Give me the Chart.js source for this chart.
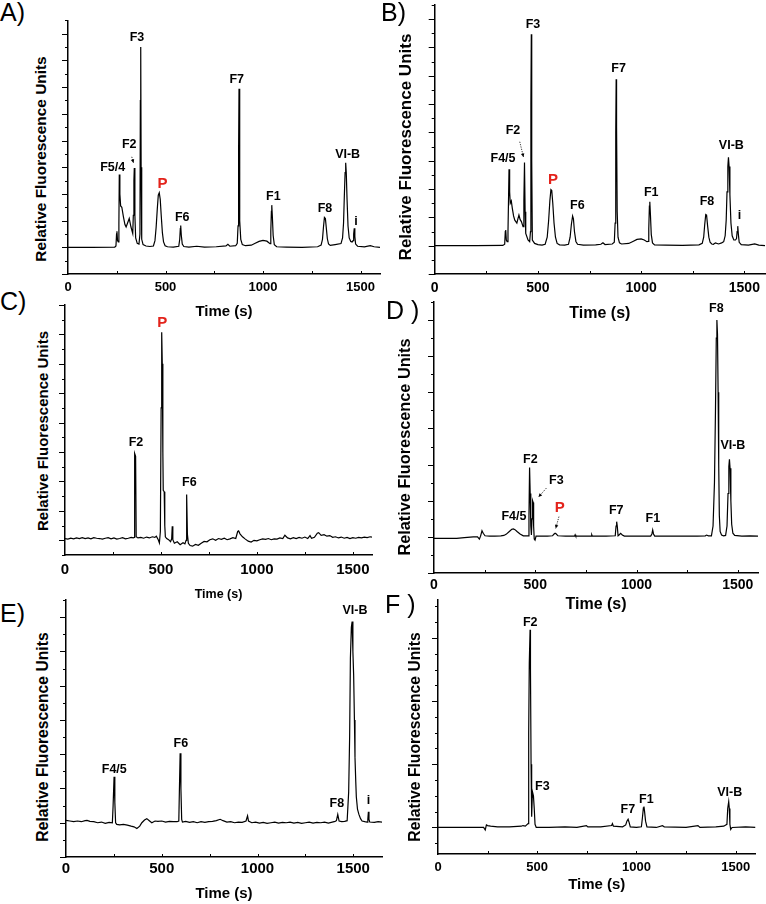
<!DOCTYPE html>
<html>
<head>
<meta charset="utf-8">
<script src="https://cdn.jsdelivr.net/npm/chart.js@4.4.0/dist/chart.umd.min.js"></script>
<style>
  html, body { margin: 0; padding: 0; background: #fff; overflow: hidden; }
  #fig { position: relative; width: 766px; height: 904px; font-family: "Liberation Sans", Arial, sans-serif; }
  canvas { position: absolute; }
  .tag { position: absolute; font-size: 25px; line-height: 25px; color: #000; white-space: pre; }
  .ytitle { position: absolute; font-weight: bold; white-space: nowrap; color: #000;
            transform: translate(-50%, -50%) rotate(-90deg); }
</style>
</head>
<body>
<div id="fig"></div>
<script>
// ticks of the time axis (same for every panel)
const xTickLabels = [0, 500, 1000, 1500];
const xTickMarks = [250, 500, 750, 1000, 1250, 1500];

// y ticks (no numbers in the original, only marks)
const yMajor1 = [-1, 0, 1, 2, 3, 4, 5, 6, 7, 8];
const yMinor1 = [-0.5, 0.5, 1.5, 2.5, 3.5, 4.5, 5.5, 6.5, 7.5, 8.5];
const yMajorC = [0, 1, 2, 3, 4, 5, 6, 7, 8];
const yMinorC = [-0.5, 0.5, 1.5, 2.5, 3.5, 4.5, 5.5, 6.5, 7.5];
const yMajor2 = [-1, 0, 1, 2, 3, 4, 5, 6];
const yMinor2 = [-0.5, 0.5, 1.5, 2.5, 3.5, 4.5, 5.5, 6.5];
const yMajorF = [0, 1, 2, 3];
const yMinorF = [-0.25, 0.25, 0.5, 0.75, 1.25, 1.5, 1.75, 2.25, 2.5, 2.75, 3.25, 3.5];

// electropherograms: [time (s), relative fluorescence]
const traceA = [[0,0],[120,0],[240,0.01],[246,0.05],[249,0.5],[251,0.6],[254,0.25],[258,0.2],[261,0.9],[263,2.73],[266,2.0],[270,1.55],[276,1.5],[284,1.15],[292,0.85],[298,0.76],[306,0.92],[314,1.08],[323,0.76],[332,0.52],[335,1.2],[338,2.5],[340,2.97],[343,1.2],[347,0.35],[355,0.15],[364,0.12],[369,0.5],[371,5.5],[373,7.5],[375,3.0],[378,0.3],[385,0.1],[400,0.05],[420,0.03],[438,0.05],[446,0.25],[452,0.75],[458,1.45],[463,1.95],[468,2.04],[473,1.8],[478,1.2],[484,0.55],[490,0.2],[498,0.06],[510,0.02],[540,0.01],[568,0.04],[573,0.3],[576,0.7],[578,0.82],[581,0.45],[586,0.12],[594,0.03],[620,0.01],[660,0.04],[700,0.01],[760,0.02],[810,0.05],[820,0.11],[830,0.04],[860,0.06],[868,0.15],[872,0.8],[875,3.8],[877,5.94],[879,4.3],[882,1.0],[886,0.3],[894,0.1],[910,0.06],[940,0.08],[960,0.15],[980,0.22],[1000,0.26],[1020,0.23],[1030,0.17],[1036,0.14],[1040,0.6],[1043,1.35],[1045,1.58],[1048,1.15],[1052,0.45],[1058,0.1],[1070,0.02],[1120,0.01],[1200,0],[1280,0.02],[1298,0.08],[1305,0.3],[1310,0.75],[1315,1.12],[1320,1.08],[1325,0.7],[1330,0.32],[1336,0.13],[1345,0.07],[1370,0.1],[1400,0.14],[1408,0.35],[1413,0.9],[1417,1.9],[1421,2.8],[1424,3.17],[1427,2.8],[1431,1.8],[1436,0.8],[1442,0.35],[1450,0.22],[1457,0.2],[1462,0.25],[1465,0.5],[1468,0.71],[1471,0.4],[1475,0.12],[1485,0.04],[1520,0.02],[1550,0.06],[1570,0.02],[1600,0]];

const traceB = [[0,0],[200,0],[330,0.01],[339,0.05],[342,0.5],[344,0.55],[347,0.2],[351,0.14],[355,0.5],[358,1.8],[360,2.7],[363,1.9],[366,1.5],[371,1.58],[376,1.32],[382,1.05],[388,0.9],[398,0.8],[403,0.95],[408,1.08],[414,0.92],[420,0.85],[428,0.67],[432,1.6],[435,2.94],[438,1.2],[441,0.43],[452,0.2],[460,0.14],[464,0.5],[466,5.0],[468,7.47],[470,3.0],[473,0.2],[484,0.08],[500,0.04],[520,0.02],[535,0.05],[545,0.3],[552,0.9],[558,1.6],[563,1.98],[567,1.95],[572,1.5],[578,0.8],[585,0.3],[593,0.08],[605,0.03],[630,0.02],[648,0.05],[656,0.3],[662,0.75],[668,1.05],[672,0.95],[677,0.5],[684,0.15],[692,0.05],[720,0.02],[780,0.03],[805,0.05],[815,0.1],[825,0.04],[860,0.06],[870,0.12],[874,0.8],[877,4.0],[879,5.88],[881,4.2],[884,1.2],[888,0.3],[895,0.1],[905,0.06],[940,0.08],[960,0.15],[980,0.22],[1000,0.24],[1015,0.2],[1028,0.14],[1034,0.15],[1037,0.6],[1040,1.4],[1042,1.55],[1045,1.1],[1049,0.4],[1055,0.1],[1065,0.03],[1120,0.02],[1200,0.01],[1280,0.03],[1296,0.08],[1303,0.3],[1308,0.75],[1313,1.1],[1317,1.08],[1322,0.7],[1328,0.3],[1334,0.12],[1342,0.06],[1350,0.05],[1360,0.1],[1375,0.06],[1390,0.1],[1400,0.14],[1407,0.35],[1412,0.9],[1416,1.9],[1420,2.8],[1423,3.12],[1426,2.8],[1430,1.8],[1435,0.8],[1441,0.35],[1449,0.2],[1457,0.2],[1462,0.25],[1465,0.5],[1468,0.69],[1471,0.4],[1475,0.12],[1485,0.04],[1520,0.02],[1550,0.06],[1570,0.02],[1600,0]];

const traceC = [[0,0.06],[15,0.04],[30,0.07],[45,0.05],[60,0.08],[75,0.06],[90,0.09],[105,0.06],[120,0.08],[135,0.05],[150,0.09],[165,0.07],[180,0.06],[195,0.04],[210,0.07],[225,0.09],[240,0.05],[255,0.08],[270,0.04],[285,0.06],[300,0.09],[315,0.05],[330,0.07],[345,0.1],[355,0.08],[361,0.1],[363,2.95],[368,2.85],[371,0.12],[380,0.08],[395,0.1],[410,0.07],[425,0.11],[440,0.08],[455,0.12],[468,0.1],[476,0.14],[486,0.02],[492,-0.09],[497,0.3],[501,4.5],[504,7.07],[507,6.0],[510,3.0],[512,1.7],[517,1.65],[520,0.5],[523,0.12],[530,0.06],[540,0.02],[550,-0.05],[556,0.05],[559,0.48],[562,0.02],[570,-0.1],[585,-0.05],[600,-0.15],[615,-0.08],[625,-0.12],[631,0.0],[634,1.56],[638,0.2],[643,-0.1],[652,-0.18],[665,-0.2],[680,-0.14],[695,-0.17],[710,-0.1],[725,-0.04],[740,-0.05],[755,0.02],[770,0.05],[785,0.0],[800,0.06],[815,0.03],[830,0.07],[845,0.02],[860,0.05],[875,0.09],[890,0.06],[900,0.3],[905,0.32],[912,0.22],[925,0.12],[940,0.04],[955,-0.03],[970,-0.06],[985,0.0],[1000,-0.02],[1015,0.02],[1030,0.05],[1045,0.03],[1060,0.06],[1075,0.02],[1090,0.05],[1105,0.04],[1120,0.08],[1135,0.06],[1146,0.17],[1160,0.08],[1175,0.05],[1190,0.09],[1205,0.06],[1220,0.1],[1235,0.07],[1250,0.11],[1265,0.06],[1277,0.16],[1285,0.07],[1300,0.1],[1315,0.24],[1322,0.26],[1335,0.17],[1350,0.19],[1365,0.14],[1380,0.16],[1395,0.1],[1410,0.12],[1425,0.08],[1440,0.11],[1455,0.07],[1470,0.1],[1485,0.06],[1500,0.09],[1515,0.07],[1530,0.1],[1545,0.08],[1560,0.11],[1575,0.09],[1590,0.12],[1600,0.11]];

const traceD = [[0,-0.04],[60,-0.04],[112,-0.04],[150,-0.02],[194,0],[215,0],[224,-0.06],[230,0.02],[237,0.17],[243,0.1],[252,0.03],[275,0.02],[300,0.02],[330,0.03],[345,0.04],[356,0.07],[372,0.15],[384,0.21],[392,0.22],[400,0.2],[410,0.15],[425,0.08],[441,0.03],[466,0.03],[469,0.6],[472,1.92],[475,1.2],[478,0.3],[481,0.05],[484,0.5],[487,1.0],[490,0.95],[492,0.3],[495,-0.06],[499,-0.09],[504,0.02],[520,0.02],[560,0.02],[585,0.03],[593,0.08],[598,0.1],[604,0.08],[612,0.03],[650,0.02],[694,0.02],[697,0.06],[700,0.02],[776,0.02],[779,0.06],[782,0.02],[850,0.02],[895,0.03],[899,0.3],[902,0.42],[905,0.3],[909,0.03],[915,0.06],[922,0.1],[930,0.05],[940,0.02],[1000,0.02],[1070,0.02],[1076,0.08],[1080,0.19],[1084,0.08],[1090,0.02],[1200,0.02],[1300,0.02],[1340,0.03],[1346,0.05],[1355,0.03],[1370,0.03],[1378,0.3],[1385,1.5],[1390,3.5],[1394,5.5],[1397,6.0],[1400,5.6],[1403,4.0],[1406,2.0],[1409,0.6],[1413,0.15],[1420,0.05],[1430,0.03],[1440,0.04],[1447,0.3],[1452,1.2],[1456,1.95],[1459,2.15],[1462,1.9],[1466,1.0],[1470,0.35],[1476,0.1],[1485,0.04],[1520,0.02],[1560,0.03],[1600,0.02]];

const traceE = [[0,0.07],[20,0.05],[40,0.03],[60,0.05],[80,0.03],[100,0.06],[110,0.07],[125,0.04],[145,0.03],[165,0.0],[185,0.02],[205,-0.02],[225,0.01],[242,0.0],[246,0.5],[251,1.34],[255,0.6],[259,0.0],[265,-0.05],[280,-0.06],[300,-0.05],[320,-0.07],[340,-0.1],[355,-0.12],[370,-0.17],[385,-0.1],[396,0.0],[410,0.08],[422,0.12],[435,0.06],[448,0.0],[465,0.05],[480,0.04],[500,0.05],[520,0.02],[540,0.04],[560,0.03],[580,0.03],[589,0.05],[593,1.2],[596,2.03],[600,1.0],[604,0.1],[608,0.02],[625,0.04],[645,0.01],[665,0.03],[685,0.0],[705,0.03],[725,0.01],[745,0.03],[765,0.04],[785,0.06],[805,0.1],[820,0.06],[840,0.02],[860,0.03],[880,0.0],[900,0.02],[920,0.01],[940,0.05],[948,0.2],[953,0.05],[970,0.0],[990,0.02],[1010,-0.01],[1030,0.01],[1050,-0.02],[1070,0.0],[1090,0.02],[1110,-0.01],[1130,0.01],[1150,0.0],[1170,0.02],[1190,-0.01],[1210,0.01],[1230,-0.02],[1250,0.0],[1270,0.02],[1290,-0.01],[1310,0.01],[1330,0.0],[1350,0.02],[1370,-0.01],[1390,0.02],[1405,0.04],[1412,0.06],[1419,0.24],[1426,0.05],[1440,0.03],[1455,0.04],[1468,0.06],[1476,0.9],[1481,2.5],[1485,4.8],[1490,5.7],[1494,5.87],[1498,5.0],[1502,4.3],[1506,3.0],[1509,1.9],[1513,1.2],[1516,0.75],[1522,0.4],[1529,0.25],[1538,0.12],[1546,0.05],[1560,0.03],[1572,0.02],[1576,0.1],[1579,0.32],[1582,0.1],[1586,0.02],[1610,0.01],[1630,0.03],[1650,0.02]];

const traceF = [[0,0],[120,0],[230,0],[238,-0.04],[244,0.04],[250,0.03],[265,0.02],[300,0.01],[360,0.01],[420,0.02],[428,0.03],[440,0.02],[454,0.06],[457,1.5],[460,2.6],[464,3.13],[466,2.5],[469,1.0],[472,0.17],[475,0.48],[478,0.54],[481,0.5],[485,0.3],[489,0.05],[495,0],[560,0],[640,0.01],[700,0],[748,0.03],[755,0.01],[820,0.01],[875,0.03],[879,0.06],[884,0.02],[930,0.01],[946,0.04],[952,0.1],[958,0.13],[963,0.08],[969,0.01],[1000,0],[1025,0.01],[1030,0.15],[1035,0.31],[1038,0.33],[1041,0.25],[1046,0.1],[1053,0.01],[1100,0],[1131,0.03],[1140,0.01],[1250,0],[1310,0.03],[1320,0],[1400,0.01],[1440,0.02],[1450,0.04],[1456,0.05],[1460,0.3],[1465,0.41],[1468,0.3],[1471,0.05],[1475,-0.03],[1482,0.0],[1550,0.01],[1600,0]];

// peak names, anchored in data space (time, rfu)
const peaksA = [
  {text: 'F3', t: 354, v: 7.85}, {text: 'F7', t: 865, v: 6.27}, {text: 'F2', t: 314, v: 3.86},
  {text: 'F5/4', t: 229, v: 2.98}, {text: 'P', t: 484, v: 2.37, red: true}, {text: 'F6', t: 586, v: 1.12},
  {text: 'F1', t: 1053, v: 1.9}, {text: 'F8', t: 1318, v: 1.46}, {text: 'VI-B', t: 1434, v: 3.46},
  {text: 'i', t: 1477, v: 0.96}
];
const arrowsA = [[327, 3.39, 336, 3.16]];
const peaksB = [
  {text: 'F3', t: 476, v: 7.8}, {text: 'F7', t: 891, v: 6.27}, {text: 'F2', t: 379, v: 4.06},
  {text: 'F4/5', t: 331, v: 3.06}, {text: 'P', t: 573, v: 2.32, red: true}, {text: 'F6', t: 691, v: 1.4},
  {text: 'F1', t: 1049, v: 1.87}, {text: 'F8', t: 1319, v: 1.55}, {text: 'VI-B', t: 1437, v: 3.53},
  {text: 'i', t: 1477, v: 1.08}
];
const arrowsB = [[412, 3.67, 430, 3.13]];
const peaksC = [
  {text: 'P', t: 507, v: 7.38, red: true}, {text: 'F2', t: 370, v: 3.32}, {text: 'F6', t: 648, v: 1.96}
];
const peaksD = [
  {text: 'F8', t: 1394, v: 6.33}, {text: 'VI-B', t: 1476, v: 2.52}, {text: 'F2', t: 476, v: 2.13},
  {text: 'F3', t: 604, v: 1.56}, {text: 'F4/5', t: 395, v: 0.56}, {text: 'P', t: 621, v: 0.79, red: true},
  {text: 'F7', t: 900, v: 0.73}, {text: 'F1', t: 1081, v: 0.52}
];
const arrowsD = [[555, 1.35, 516, 1.10], [617, 0.56, 601, 0.23]];
const peaksE = [
  {text: 'VI-B', t: 1509, v: 6.2}, {text: 'F6', t: 600, v: 2.32}, {text: 'F4/5', t: 252, v: 1.56},
  {text: 'F8', t: 1414, v: 0.57}, {text: 'i', t: 1579, v: 0.65}
];
const peaksF = [
  {text: 'F2', t: 465, v: 3.24}, {text: 'F3', t: 526, v: 0.64}, {text: 'F7', t: 957, v: 0.29},
  {text: 'F1', t: 1050, v: 0.44}, {text: 'VI-B', t: 1470, v: 0.55}
];

const FONT = '"Liberation Sans", Arial, sans-serif';

// layout of the six panels (plot area in page pixels)
const panels = [
  {tag: 'A)', tagX: 0, tagY: 0, l: 68, t: 20.4, r: 380, b: 274, xMax: 1600, yMin: -1, yMax: 8.5,
   major: yMajor1, minor: yMinor1, trace: traceA, peaks: peaksA, arrows: arrowsA,
   tickSize: 13, tickPad: 6, titleSize: 15, xH: 47, yt: [41, 159, 15.4]},
  {tag: 'B)', tagX: 381, tagY: 0, l: 434.7, t: 5, r: 765, b: 274, xMax: 1600, yMin: -1, yMax: 8.5,
   major: yMajor1, minor: yMinor1, trace: traceB, peaks: peaksB, arrows: arrowsB,
   tickSize: 14, tickPad: 5.5, titleSize: 16, xH: 49.5, yt: [406, 147, 17]},
  {tag: 'C)', tagX: 0, tagY: 289, l: 65, t: 305, r: 372, b: 555, xMax: 1600, yMin: -0.5, yMax: 8,
   major: yMajorC, minor: yMinorC, trace: traceC, peaks: peaksC, arrows: [],
   tickSize: 15, tickPad: 6, titleSize: 12.5, xH: 47.5, yt: [42, 431, 15]},
  {tag: 'D )', tagX: 386, tagY: 298, l: 434, t: 302, r: 758, b: 573, xMax: 1600, yMin: -1, yMax: 6.5,
   major: yMajor2, minor: yMinor2, trace: traceD, peaks: peaksD, arrows: arrowsD,
   tickSize: 14, tickPad: 3.6, titleSize: 16, xH: 41.6, yt: [404, 447, 16.3]},
  {tag: 'E)', tagX: 0, tagY: 601, l: 66, t: 600, r: 382, b: 857, xMax: 1650, yMin: -1, yMax: 6.5,
   major: yMajor2, minor: yMinor2, trace: traceE, peaks: peaksE, arrows: [],
   tickSize: 15, tickPad: 3, titleSize: 15, xH: 46, yt: [43, 737, 15.7]},
  {tag: 'F )', tagX: 385, tagY: 592, l: 438, t: 600, r: 755.5, b: 854, xMax: 1600, yMin: -0.42, yMax: 3.6,
   major: yMajorF, minor: yMinorF, trace: traceF, peaks: peaksF, arrows: [],
   tickSize: 13, tickPad: 5.9, titleSize: 15, xH: 40, yt: [415, 737, 15.7]}
];

// tick marks: inward on the time axis, outward (long/short) on the y axis
const tickMarks = {
  id: 'tickMarks',
  afterDraw(chart, args, opts) {
    const {ctx, chartArea, scales: {x, y}} = chart;
    ctx.save();
    ctx.strokeStyle = '#000';
    ctx.lineWidth = 1;
    ctx.beginPath();
    opts.xMarks.forEach(v => {
      if (v > x.max) return;
      const px = Math.round(x.getPixelForValue(v)) + 0.5;
      ctx.moveTo(px, chartArea.bottom);
      ctx.lineTo(px, chartArea.bottom - 3);
    });
    opts.minor.forEach(v => {
      const py = Math.round(y.getPixelForValue(v)) + 0.5;
      ctx.moveTo(chartArea.left, py);
      ctx.lineTo(chartArea.left - 3, py);
    });
    opts.major.forEach(v => {
      const py = Math.round(y.getPixelForValue(v)) + 0.5;
      ctx.moveTo(chartArea.left, py);
      ctx.lineTo(chartArea.left - 6, py);
    });
    ctx.stroke();
    ctx.restore();
  }
};

// peak names and the small dotted pointers
const peakLabels = {
  id: 'peakLabels',
  afterDatasetsDraw(chart, args, opts) {
    const {ctx, scales: {x, y}} = chart;
    ctx.save();
    ctx.textAlign = 'center';
    ctx.textBaseline = 'middle';
    opts.peaks.forEach(p => {
      ctx.font = 'bold ' + (p.red ? 15 : 12.5) + 'px ' + FONT;
      ctx.fillStyle = p.red ? '#e3231b' : '#000';
      ctx.fillText(p.text, x.getPixelForValue(p.t), y.getPixelForValue(p.v));
    });
    opts.arrows.forEach(([t1, v1, t2, v2]) => {
      const x1 = x.getPixelForValue(t1), y1 = y.getPixelForValue(v1);
      const x2 = x.getPixelForValue(t2), y2 = y.getPixelForValue(v2);
      const a = Math.atan2(y2 - y1, x2 - x1);
      ctx.strokeStyle = '#000';
      ctx.lineWidth = 0.8;
      ctx.setLineDash([1.2, 1.2]);
      ctx.beginPath();
      ctx.moveTo(x1, y1);
      ctx.lineTo(x2, y2);
      ctx.stroke();
      ctx.setLineDash([]);
      ctx.fillStyle = '#000';
      ctx.beginPath();
      ctx.moveTo(x2, y2);
      ctx.lineTo(x2 - 4 * Math.cos(a - 0.45), y2 - 4 * Math.sin(a - 0.45));
      ctx.lineTo(x2 - 4 * Math.cos(a + 0.45), y2 - 4 * Math.sin(a + 0.45));
      ctx.closePath();
      ctx.fill();
    });
    ctx.restore();
  }
};

const fig = document.getElementById('fig');

panels.forEach(p => {
  const tag = document.createElement('div');
  tag.className = 'tag';
  tag.textContent = p.tag;
  tag.style.left = p.tagX + 'px';
  tag.style.top = p.tagY + 'px';
  fig.appendChild(tag);

  const yt = document.createElement('div');
  yt.className = 'ytitle';
  yt.textContent = 'Relative Fluorescence Units';
  yt.style.left = p.yt[0] + 'px';
  yt.style.top = p.yt[1] + 'px';
  yt.style.fontSize = p.yt[2] + 'px';
  fig.appendChild(yt);

  const cl = Math.floor(p.l - 12), ct = Math.floor(p.t - 8);
  const cr = Math.min(766, Math.ceil(p.r + 6)), cb = Math.ceil(p.b + p.xH);
  const canvas = document.createElement('canvas');
  canvas.width = cr - cl;
  canvas.height = cb - ct;
  canvas.style.left = cl + 'px';
  canvas.style.top = ct + 'px';
  fig.appendChild(canvas);

  new Chart(canvas, {
    type: 'line',
    data: {
      datasets: [{
        data: p.trace.map(([t, v]) => ({x: t, y: v})),
        borderColor: '#000',
        borderWidth: 1.2,
        pointRadius: 0,
        tension: 0,
        fill: false
      }]
    },
    options: {
      responsive: false,
      animation: false,
      events: [],
      layout: {padding: {left: 0, top: p.t - ct, right: cr - p.r, bottom: cb - p.b - p.xH}},
      plugins: {
        legend: {display: false},
        tooltip: {enabled: false},
        tickMarks: {xMarks: xTickMarks, major: p.major, minor: p.minor},
        peakLabels: {peaks: p.peaks, arrows: p.arrows}
      },
      scales: {
        x: {
          type: 'linear', min: 0, max: p.xMax,
          grid: {display: false, drawTicks: false},
          border: {display: true, color: '#000', width: 1.5},
          afterBuildTicks: s => { s.ticks = xTickLabels.map(v => ({value: v})); },
          afterFit: s => { s.height = p.xH; },
          ticks: {color: '#000', padding: p.tickPad, autoSkip: false, maxRotation: 0,
                  callback: v => String(v), font: {family: FONT, weight: 'bold', size: p.tickSize}},
          title: {display: true, text: 'Time (s)', color: '#000', padding: 0,
                  font: {family: FONT, weight: 'bold', size: p.titleSize}}
        },
        y: {
          type: 'linear', min: p.yMin, max: p.yMax,
          grid: {display: false, drawTicks: false},
          border: {display: true, color: '#000', width: 1.5},
          ticks: {display: false},
          afterFit: s => { s.width = p.l - cl; }
        }
      }
    },
    plugins: [tickMarks, peakLabels]
  });
});
</script>
</body>
</html>
